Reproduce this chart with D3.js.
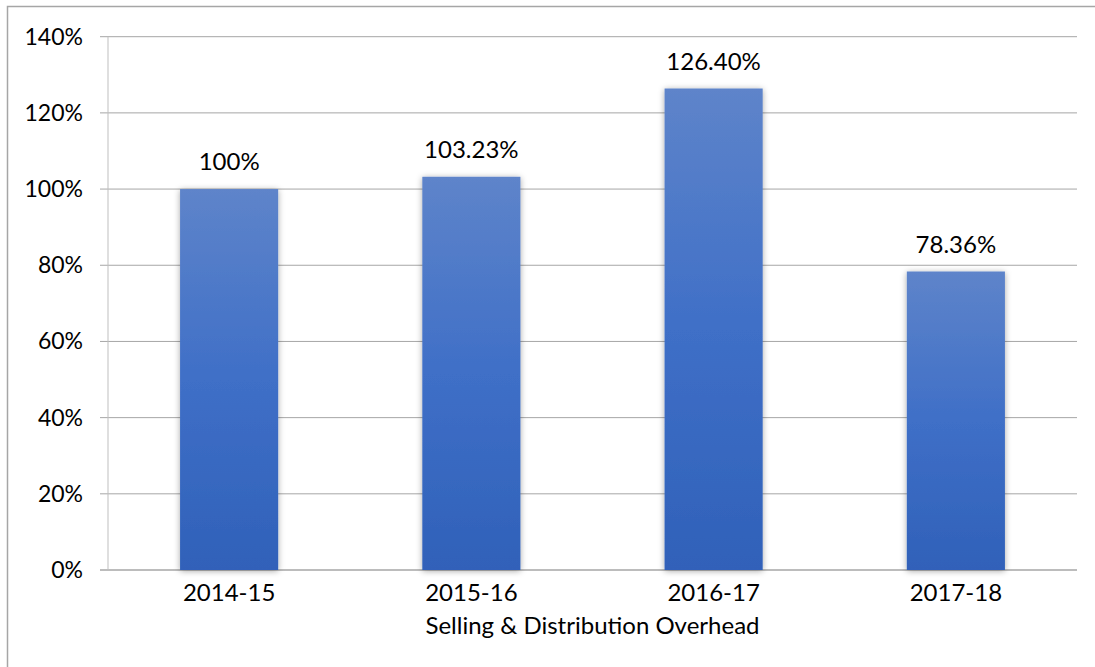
<!DOCTYPE html>
<html><head><meta charset="utf-8">
<script src="https://cdn.jsdelivr.net/npm/d3@7"></script>
<style>body{margin:0;background:#fff}svg{display:block}text{font-family:Lato,"Open Sans",sans-serif;fill:#000}</style>
</head><body>
<script>
const categories = ["2014-15","2015-16","2016-17","2017-18"];
const values = [100, 103.23, 126.40, 78.36];
const valueLabels = ["100%","103.23%","126.40%","78.36%"];
const yTicks = [0,20,40,60,80,100,120,140];
const xTitle = "Selling & Distribution Overhead";

const W = 1095, H = 667;
const m = {left:108, right:1077, top:36.7, bottom:570};
const svg = d3.select("body").append("svg").attr("width",W).attr("height",H);

const defs = svg.append("defs");
const g = defs.append("linearGradient").attr("id","bg").attr("x1",0).attr("y1",0).attr("x2",0).attr("y2",1);
g.append("stop").attr("offset","0%").attr("stop-color","#5e84ca");
g.append("stop").attr("offset","50%").attr("stop-color","#3f6fc7");
g.append("stop").attr("offset","100%").attr("stop-color","#3061b9");
const f = defs.append("filter").attr("id","sh").attr("x","-20%").attr("y","-10%").attr("width","140%").attr("height","120%");
f.append("feDropShadow").attr("dx",0).attr("dy",1).attr("stdDeviation",3).attr("flood-color","#000").attr("flood-opacity",0.35);

// outer border
svg.append("path").attr("d",`M7.5,${H} V6.5 H${W}`).attr("fill","none").attr("stroke","#a6a6a6").attr("stroke-width",1.5);

const x = d3.scaleBand().domain(categories).range([m.left,m.right]).paddingInner(0.595).paddingOuter(0.2975);
const y = d3.scaleLinear().domain([0,140]).range([m.bottom,m.top]);

// gridlines
svg.append("g").selectAll("line").data(yTicks).join("line")
  .attr("x1",m.left-8).attr("x2",m.right).attr("y1",d=>y(d)).attr("y2",d=>y(d))
  .attr("stroke","#a6a6a6").attr("stroke-width",d=>d===0?1.5:1);
// y axis line
svg.append("line").attr("x1",m.left).attr("x2",m.left).attr("y1",m.top).attr("y2",m.bottom).attr("stroke","#bfbfbf");

// y labels
svg.append("g").selectAll("text").data(yTicks).join("text")
  .attr("x",83).attr("y",d=>y(d)+8).attr("text-anchor","end").attr("font-size",23).text(d=>d+"%");

// bars
svg.append("g").selectAll("rect").data(values).join("rect")
  .attr("x",(d,i)=>x(categories[i])).attr("width",x.bandwidth())
  .attr("y",d=>y(d)).attr("height",d=>y(0)-y(d))
  .attr("fill","url(#bg)").attr("filter","url(#sh)");

// value labels
svg.append("g").selectAll("text").data(values).join("text")
  .attr("x",(d,i)=>x(categories[i])+x.bandwidth()/2).attr("y",d=>y(d)-19)
  .attr("text-anchor","middle").attr("font-size",24).text((d,i)=>valueLabels[i]);

// x labels
svg.append("g").selectAll("text").data(categories).join("text")
  .attr("x",d=>x(d)+x.bandwidth()/2).attr("y",601)
  .attr("text-anchor","middle").attr("font-size",24).text(d=>d);

svg.append("text").attr("x",(m.left+m.right)/2).attr("y",634).attr("text-anchor","middle").attr("font-size",24).text(xTitle);
</script>
</body></html>
